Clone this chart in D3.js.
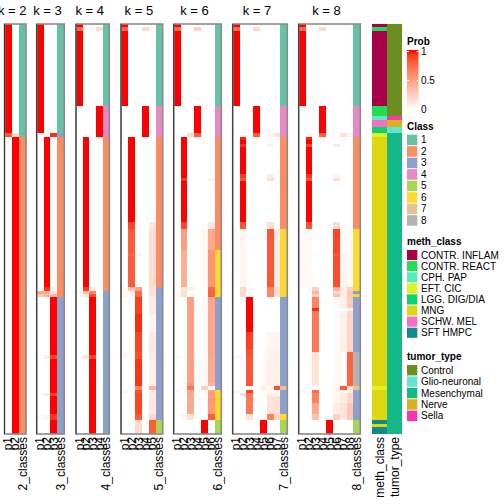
<!DOCTYPE html>
<html><head><meta charset="utf-8">
<script src="https://cdn.jsdelivr.net/npm/d3@7"></script>
<style>body{margin:0;background:#fff}svg{display:block}text{font-family:"Liberation Sans",Arial,Helvetica,sans-serif}</style>
</head><body><svg id="c" width="504" height="504"></svg>
<script>
// ---------------- data ----------------
const nSamples = 120;
const kValues = [2,3,4,5,6,7,8];
const classNames = ["1","2","3","4","5","6","7","8"];
const classColors = ["#66C2A5","#FC8D62","#8DA0CB","#E78AC3","#A6D854","#FFD92F","#E5C494","#B3B3B3"];
// run segments: [firstSample, lastSample, class, [p1..pk]]
const probK2 = [
 [0,31,1,[1,0]],[32,32,1,[0.8,0.2]],[33,119,2,[0,1]]];
const probK3 = [
 [0,31,1,[1,0,0]],[32,32,3,[0,0.05,0.95]],[33,76,2,[0,1,0]],[77,77,2,[0,0.93,0.07]],
 [78,78,2,[0.45,0.4,0.15]],[79,79,2,[0.25,0.4,0.35]],[80,96,3,[0,0,1]],[97,97,3,[0.02,0.1,0.88]],
 [98,107,3,[0,0,1]],[108,108,3,[0.02,0.1,0.88]],[109,113,3,[0,0,1]],[114,115,3,[0.03,0.05,0.92]],[116,119,3,[0,0,1]]];
const probK4 = [
 [0,0,1,[1,0,0,0]],[1,1,1,[0.75,0,0.05,0.2]],[2,23,1,[1,0,0,0]],[24,32,4,[0,0,0,1]],
 [33,76,2,[0,1,0,0]],[77,77,2,[0,0.9,0.1,0]],[78,78,3,[0.05,0.3,0.65,0]],[79,79,3,[0,0.15,0.85,0]],
 [80,96,3,[0,0,1,0]],[97,97,3,[0,0.12,0.88,0]],[98,119,3,[0,0,1,0]]];
const probK5 = [
 [0,0,1,[1,0,0,0,0]],[1,1,1,[0.75,0,0,0.2,0.05]],[2,23,1,[1,0,0,0,0]],[24,32,4,[0,0,0,1,0]],
 [33,57,2,[0,1,0,0,0]],[58,59,2,[0,0.88,0,0,0.12]],[60,66,2,[0,0.8,0,0,0.18]],[67,67,2,[0,0.76,0.06,0,0.18]],
 [68,76,2,[0,0.8,0,0,0.18]],[77,77,3,[0.05,0.3,0.5,0,0.15]],[78,79,3,[0.05,0.05,0.75,0,0.15]],
 [80,84,3,[0,0,0.9,0,0.1]],[85,89,3,[0,0,0.95,0,0.05]],[90,95,3,[0,0,0.88,0,0.12]],[96,97,3,[0.05,0,0.85,0,0.1]],
 [98,105,3,[0,0,0.93,0,0.07]],[106,106,3,[0,0,0.6,0,0.4]],[107,107,3,[0.05,0,0.85,0,0.1]],
 [108,113,3,[0,0,0.88,0,0.12]],[114,115,3,[0,0,0.8,0,0.2]],[116,119,5,[0,0,0.2,0,0.8]]];
const probK6 = [
 [0,0,1,[1,0,0,0,0,0]],[1,1,1,[0.75,0,0,0.25,0,0]],[2,23,1,[1,0,0,0,0,0]],[24,31,4,[0,0,0,1,0,0]],
 [32,32,4,[0,0,0.2,0.8,0,0]],[33,44,2,[0,1,0,0,0,0]],[45,45,2,[0,0.92,0,0,0,0.08]],[46,57,2,[0,1,0,0,0,0]],
 [58,59,2,[0,0.88,0,0,0,0.12]],[60,65,2,[0,0.5,0,0,0.05,0.45]],[66,76,6,[0,0.42,0,0,0.03,0.55]],
 [77,77,6,[0.03,0.12,0.1,0,0,0.75]],[78,79,6,[0.03,0.18,0,0,0,0.79]],[80,96,3,[0,0,0.5,0,0.03,0.47]],
 [97,97,3,[0.04,0,0.48,0,0.03,0.45]],[98,104,3,[0,0,0.5,0.02,0.04,0.44]],[105,105,3,[0,0,0.55,0,0.05,0.4]],
 [106,106,3,[0,0,0.7,0,0.25,0.05]],[107,107,6,[0.04,0,0.44,0,0.02,0.5]],[108,113,6,[0,0,0.45,0,0.02,0.53]],
 [114,115,6,[0,0.05,0.15,0,0,0.8]],[116,119,5,[0,0,0,0,1,0]]];
const probK7 = [
 [0,0,1,[1,0,0,0,0,0,0]],[1,1,1,[0.75,0,0,0.2,0,0,0.05]],[2,23,1,[1,0,0,0,0,0,0]],[24,31,4,[0,0,0,1,0,0,0]],
 [32,32,4,[0,0,0,0.8,0,0.05,0.15]],[33,33,2,[0,0.97,0,0,0,0.03,0]],[34,34,2,[0,1,0,0,0,0,0]],
 [35,35,2,[0,0.93,0,0,0,0.07,0]],[36,43,2,[0,1,0,0,0,0,0]],[44,44,2,[0,0.9,0,0,0,0.1,0]],
 [45,45,2,[0,0.82,0,0,0,0.18,0]],[46,57,2,[0,1,0,0,0,0,0]],[58,59,2,[0,0.83,0,0,0,0.17,0]],
 [60,76,6,[0.02,0.06,0,0,0,0.82,0.1]],[77,79,6,[0,0.2,0,0,0,0.62,0.18]],[80,89,3,[0,0,1,0,0,0,0]],
 [90,94,3,[0,0,0.9,0,0,0.05,0.05]],[95,96,3,[0,0,0.85,0,0,0.07,0.08]],[97,97,3,[0.05,0,0.82,0,0,0.06,0.07]],
 [98,105,3,[0,0,0.82,0,0.02,0.08,0.08]],[106,106,7,[0,0,0.02,0,0.08,0.05,0.85]],
 [107,107,3,[0.05,0,0.9,0,0,0.03,0.02]],[108,108,3,[0,0.15,0.7,0,0,0.08,0.07]],
 [109,113,3,[0,0,0.68,0,0,0.15,0.17]],[114,115,6,[0,0,0.15,0,0,0.65,0.2]],[116,119,5,[0,0,0,0,1,0,0]]];
const probK8 = [
 [0,0,1,[1,0,0,0,0,0,0,0]],[1,1,1,[0.75,0,0,0.2,0,0,0,0.05]],[2,23,1,[1,0,0,0,0,0,0,0]],
 [24,31,4,[0,0,0,1,0,0,0,0]],[32,32,4,[0,0,0,0.78,0,0,0.15,0.07]],[33,33,2,[0,0.97,0,0,0,0.03,0,0]],
 [34,34,2,[0,1,0,0,0,0,0,0]],[35,35,2,[0,0.88,0,0,0,0.12,0,0]],[36,43,2,[0,1,0,0,0,0,0,0]],
 [44,44,2,[0,0.93,0,0,0,0.07,0,0]],[45,45,2,[0,0.82,0,0,0,0.18,0,0]],[46,57,2,[0,1,0,0,0,0,0,0]],
 [58,59,2,[0,0.83,0,0,0,0.17,0,0]],[60,66,6,[0.03,0.04,0,0,0,0.88,0.03,0.02]],
 [67,67,6,[0.03,0.04,0.03,0,0,0.82,0.06,0.02]],[68,76,6,[0.03,0.03,0,0,0,0.86,0.05,0.03]],
 [77,77,6,[0,0,0.25,0,0,0.4,0.1,0.25]],[78,78,3,[0,0,0.4,0,0,0.2,0.1,0.3]],[79,79,6,[0,0,0.25,0,0,0.35,0.1,0.3]],
 [80,82,3,[0,0,0.62,0,0,0.03,0.08,0.27]],[83,83,3,[0,0,0.95,0,0,0,0,0.05]],[84,95,3,[0,0,0.68,0,0,0.02,0.08,0.22]],
 [96,105,8,[0,0,0.15,0,0,0.03,0.04,0.78]],[106,106,7,[0,0,0,0,0,0.05,0.8,0.15]],
 [107,107,3,[0.05,0,0.75,0,0,0.05,0.05,0.1]],[108,110,3,[0,0,0.65,0,0,0.05,0.1,0.2]],
 [111,113,3,[0,0,0.45,0,0,0.1,0.15,0.3]],[114,115,3,[0,0,0.33,0,0,0.25,0.12,0.3]],[116,119,5,[0,0,0,0,1,0,0,0]]];
const probByK = [probK2,probK3,probK4,probK5,probK6,probK7,probK8];

const methLevels = ["CONTR. INFLAM","CONTR. REACT","CPH. PAP","EFT. CIC","LGG. DIG/DIA","MNG","SCHW. MEL","SFT HMPC"];
const methColors = ["#A8004A","#22DD55","#55EEBB","#DFF226","#0DD36E","#DDD611","#F76FC2","#108B8B"];
const methRuns = [[0,0,"CONTR. INFLAM"],[1,1,"CONTR. REACT"],[2,23,"CONTR. INFLAM"],[24,26,"CONTR. REACT"],
 [27,27,"CPH. PAP"],[28,29,"SCHW. MEL"],[30,31,"LGG. DIG/DIA"],[32,32,"EFT. CIC"],[33,105,"MNG"],
 [106,106,"EFT. CIC"],[107,115,"MNG"],[116,116,"SFT HMPC"],[117,117,"MNG"],[118,119,"SFT HMPC"]];
const tumorLevels = ["Control","Glio-neuronal","Mesenchymal","Nerve","Sella"];
const tumorColors = ["#6B8E23","#66E3CF","#14B886","#D6B21F","#FF33AA"];
const tumorRuns = [[0,26,"Control"],[27,27,"Sella"],[28,29,"Nerve"],[30,31,"Glio-neuronal"],[32,119,"Mesenchymal"]];
const probTicks = [0,0.5,1];

// ---------------- layout ----------------
const svg = d3.select("#c");
const top0 = 24, bot0 = 434;
const panelLeft = [4.5,36.7,76,121,173.7,232.7,298.7];
const panelRight = [26,64.2,109.3,162.7,221.3,287.3,360.3];
const y = d3.scaleBand().domain(d3.range(nSamples)).range([top0,bot0]);
const col = d3.scaleLinear().domain([0,1]).range(["#ffffff","#ff0000"]).interpolate(d3.interpolateLab);
const classColor = d3.scaleOrdinal().domain(classNames).range(classColors);
const methColor = d3.scaleOrdinal().domain(methLevels).range(methColors);
const tumorColor = d3.scaleOrdinal().domain(tumorLevels).range(tumorColors);
const runY = r => y(r[0]);
const runH = r => y(r[1]) + y.bandwidth() - y(r[0]) + 0.4;

kValues.forEach((k,pi)=>{
  const cols = d3.range(1,k+1).map(j=>"p"+j).concat([k+"_classes"]);
  const x = d3.scaleBand().domain(cols).range([panelLeft[pi],panelRight[pi]]);
  const g = svg.append("g").attr("shape-rendering","crispEdges");
  probByK[pi].forEach(r=>{
    r[3].forEach((v,j)=>{
      g.append("rect").attr("x",x("p"+(j+1))).attr("y",runY(r)).attr("width",x.bandwidth()+0.4)
       .attr("height",runH(r)).attr("fill",col(v));
    });
    g.append("rect").attr("x",x(k+"_classes")).attr("y",runY(r)).attr("width",x.bandwidth())
     .attr("height",runH(r)).attr("fill",classColor(String(r[2])));
  });
  svg.append("rect").attr("x",panelLeft[pi]).attr("y",top0).attr("width",panelRight[pi]-panelLeft[pi])
   .attr("height",bot0-top0).attr("fill","none").attr("stroke","#8a8a8a").attr("stroke-width",1.6);
  svg.append("line").attr("x1",panelLeft[pi]).attr("x2",panelLeft[pi]).attr("y1",top0).attr("y2",bot0)
   .attr("stroke","#333").attr("stroke-width",1);
  svg.append("text").attr("x",(panelLeft[pi]+panelRight[pi])/2-3).attr("y",15).attr("text-anchor","middle")
   .attr("font-size",13).text("k = "+k);
  cols.forEach(c=>{
    svg.append("text").attr("transform",`translate(${x(c)+x.bandwidth()/2},437) rotate(-90)`)
     .attr("text-anchor","end").attr("dy","0.35em").attr("font-size",12).text(c);
  });
});

// annotation columns
const ax = d3.scaleBand().domain(["meth_class","tumor_type"]).range([372,402]).paddingInner(0.05);
const ag = svg.append("g").attr("shape-rendering","crispEdges");
methRuns.forEach(r=>{
  ag.append("rect").attr("x",ax("meth_class")).attr("y",runY(r)).attr("width",ax.bandwidth())
   .attr("height",runH(r)).attr("fill",methColor(r[2]));
});
tumorRuns.forEach(r=>{
  ag.append("rect").attr("x",ax("tumor_type")).attr("y",runY(r)).attr("width",ax.bandwidth())
   .attr("height",runH(r)).attr("fill",tumorColor(r[2]));
});
["meth_class","tumor_type"].forEach(c=>{
  svg.append("text").attr("transform",`translate(${ax(c)+ax.bandwidth()/2},437) rotate(-90)`)
   .attr("text-anchor","end").attr("dy","0.35em").attr("font-size",12).text(c);
});

// legends
const LX = 407;
svg.append("text").attr("x",LX).attr("y",44.5).attr("font-size",10).attr("font-weight","bold").text("Prob");
const py = d3.scaleLinear().domain([0,1]).range([109.6,51.5]);
const defs = svg.append("defs");
const grad = defs.append("linearGradient").attr("id","pg").attr("x1",0).attr("x2",0).attr("y1",1).attr("y2",0);
d3.range(0,1.0001,0.1).forEach(t=>grad.append("stop").attr("offset",t).attr("stop-color",col(t)));
svg.append("rect").attr("x",LX).attr("y",50).attr("width",11.5).attr("height",60).attr("fill","url(#pg)");
probTicks.forEach(t=>{
  if(t>0){
    svg.append("line").attr("x1",LX).attr("x2",LX+2).attr("y1",py(t)).attr("y2",py(t)).attr("stroke","#fff");
    svg.append("line").attr("x1",LX+9.5).attr("x2",LX+11.5).attr("y1",py(t)).attr("y2",py(t)).attr("stroke","#fff");
  }
  svg.append("text").attr("x",LX+14).attr("y",py(t)).attr("dy","0.35em").attr("font-size",10).text(t);
});

function discreteLegend(title, titleY, top, step, names, scale){
  svg.append("text").attr("x",LX).attr("y",titleY).attr("font-size",10).attr("font-weight","bold").text(title);
  names.forEach((n,i)=>{
    svg.append("rect").attr("x",LX).attr("y",top+i*step).attr("width",10.3).attr("height",step-1)
     .attr("fill",scale(n));
    svg.append("text").attr("x",LX+14).attr("y",top+i*step+(step-1)/2).attr("dy","0.35em")
     .attr("font-size",10).text(n);
  });
}
discreteLegend("Class",130,134.7,11.5,classNames,classColor);
discreteLegend("meth_class",245,250,11.1,methLevels,methColor);
discreteLegend("tumor_type",360,365,11.4,tumorLevels,tumorColor);
</script></body></html>
